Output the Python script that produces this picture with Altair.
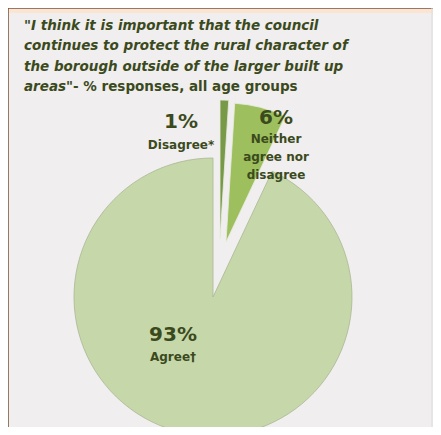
import math
import altair as alt
import pandas as pd

# ---- data ----
keys = ["Disagree", "Neither", "Agree"]
values = [1, 6, 93]
pct_labels = ["1%", "6%", "93%"]
name_labels = [["Disagree*"], ["Neither", "agree nor", "disagree"], ["Agree\u2020"]]
colors = ["#789a48", "#9dbf5e", "#c6d7aa"]

title_lines = [
    "\"I think it is important that the council",
    "continues to protect the rural character of",
    "the borough outside of the larger built up",
    "areas\"",
]
title_suffix = "- % responses, all age groups"

# ---- layout (styles / positions) ----
W, H = 425, 419
BG = "#f0eeee"
TXT = "#3b4a1d"
R = 139
centers = {"Agree": (205, 289), "Disagree": (212, 231), "Neither": (218, 234)}
label_pos = {"Disagree": (173, 120), "Neither": (268, 116), "Agree": (165, 333)}
name_first_y = {"Disagree": 141, "Neither": 135, "Agree": 353}

df = pd.DataFrame({"key": keys, "value": values, "order": list(range(len(keys)))})

base = (
    alt.Chart(df)
    .transform_window(end="sum(value)", sort=[alt.SortField("order")])
    .transform_calculate(start="datum.end - datum.value")
)
theta_scale = alt.Scale(domain=[0, sum(values)], range=[0, 2 * math.pi])
color_enc = alt.Color("key:N", scale=alt.Scale(domain=keys, range=colors), legend=None)

layers = []
# frame
frame = pd.DataFrame({"a": [0]})
layers.append(alt.Chart(frame).mark_rule(color="#fbe4d2", strokeWidth=4).encode(
    x=alt.value(0), x2=alt.value(W), y=alt.value(3)))
layers.append(alt.Chart(frame).mark_rule(color="#7b5136", strokeWidth=1.5).encode(
    x=alt.value(0), x2=alt.value(W), y=alt.value(0)))
layers.append(alt.Chart(frame).mark_rule(color="#7b5136", strokeWidth=1.5).encode(
    x=alt.value(0), y=alt.value(0), y2=alt.value(H)))
layers.append(alt.Chart(frame).mark_rule(color="#dcdcdc", strokeWidth=1).encode(
    x=alt.value(W - 1), y=alt.value(0), y2=alt.value(H)))

for k in ["Agree", "Disagree", "Neither"]:
    cx, cy = centers[k]
    stroke = "#a9b894" if k == "Agree" else "#e8ece0"
    layers.append(
        base.transform_filter(alt.datum.key == k)
        .mark_arc(outerRadius=R, stroke=stroke, strokeWidth=0.8)
        .encode(theta=alt.Theta("start:Q", scale=theta_scale), theta2="end:Q",
                color=color_enc, x=alt.value(cx), y=alt.value(cy))
    )

# title lines
tdf = pd.DataFrame({"line": title_lines, "i": list(range(len(title_lines)))})
layers.append(
    alt.Chart(tdf).transform_calculate(yy="22 + datum.i * 20.3")
    .mark_text(align="left", baseline="alphabetic", font="DejaVu Sans", fontSize=13.5,
               fontWeight="bold", fontStyle="italic", color=TXT)
    .encode(text="line:N", x=alt.value(16), y=alt.Y("yy:Q", scale=None))
)
layers.append(
    alt.Chart(pd.DataFrame({"t": [title_suffix]}))
    .mark_text(align="left", baseline="alphabetic", font="DejaVu Sans", fontSize=13.5,
               fontWeight="bold", color=TXT)
    .encode(text="t:N", x=alt.value(65), y=alt.value(22 + 3 * 20.3))
)

# slice labels
for k, p, names in zip(keys, pct_labels, name_labels):
    x, y = label_pos[k]
    layers.append(
        alt.Chart(pd.DataFrame({"t": [p]}))
        .mark_text(align="center", baseline="alphabetic", font="DejaVu Sans", fontSize=20,
                   fontWeight="bold", color=TXT)
        .encode(text="t:N", x=alt.value(x), y=alt.value(y))
    )
    ndf = pd.DataFrame({"t": names, "i": list(range(len(names)))})
    layers.append(
        alt.Chart(ndf).transform_calculate(yy=f"{name_first_y[k]} + datum.i * 18")
        .mark_text(align="center", baseline="alphabetic", font="DejaVu Sans", fontSize=12,
                   fontWeight="bold", color=TXT)
        .encode(text="t:N", x=alt.value(x), y=alt.Y("yy:Q", scale=None))
    )

chart = (
    alt.layer(*layers)
    .properties(width=W, height=H, background=BG, padding=0,
                autosize=alt.AutoSizeParams(type="none"))
    .configure_view(stroke=None)
)

chart.save("out.html", embed_options={"renderer": "svg", "actions": False})
